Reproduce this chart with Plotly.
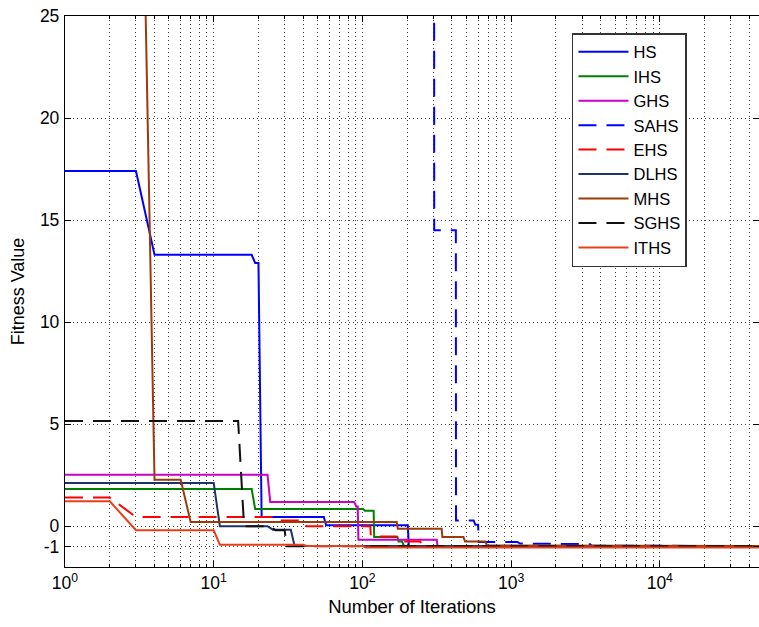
import plotly.graph_objects as go

# Convergence curves: best fitness value against iteration count
series_names = ["HS", "IHS", "GHS", "SAHS", "EHS", "DLHS", "MHS", "SGHS", "ITHS"]

hs_iter = [1, 3, 4, 18, 19, 20, 21, 55, 57, 202, 205, 50000]
hs_fit = [17.4, 17.4, 13.3, 13.3, 12.9, 12.9, 0.45, 0.45, 0.05, 0.05, -0.97, -0.97]

ihs_iter = [1, 18, 19, 101, 104, 119, 120, 172, 175, 185, 190, 50000]
ihs_fit = [1.82, 1.82, 0.84, 0.84, 0.76, 0.76, -0.53, -0.53, -0.75, -0.75, -0.97, -0.97]

ghs_iter = [1, 23, 24, 88, 91, 93, 94, 316, 320, 50000]
ghs_fit = [2.52, 2.52, 1.19, 1.19, 0.97, 0.97, -0.66, -0.66, -0.97, -0.97]

sahs_iter = [1, 303, 304, 425, 426, 560, 575, 600, 605, 1100, 1150, 3400, 3500, 50000]
sahs_fit = [45, 45, 14.5, 14.5, 0.28, 0.28, 0.07, 0.07, -0.77, -0.77, -0.85, -0.88, -0.96, -0.97]

ehs_iter = [1, 2, 3, 27, 28, 40, 42, 113, 114, 170, 175, 245, 250, 50000]
ehs_fit = [1.4, 1.4, 0.45, 0.45, 0.28, 0.28, 0.0, 0.0, -0.5, -0.5, -0.75, -0.75, -0.97, -0.97]

dlhs_iter = [1, 10, 11, 23, 25, 33, 35, 50000]
dlhs_fit = [2.12, 2.12, 0.0, 0.0, -0.17, -0.17, -0.97, -0.97]

mhs_iter = [1, 3, 4, 6, 7, 170, 173, 341, 345, 478, 490, 668, 690, 50000]
mhs_fit = [50, 50, 2.28, 2.28, 0.2, 0.2, -0.12, -0.12, -0.53, -0.53, -0.75, -0.75, -0.95, -0.97]

sghs_iter = [1, 14.6, 16, 24, 26, 30, 31, 50000]
sghs_fit = [5.15, 5.15, 0.0, 0.0, -0.2, -0.2, -0.98, -0.98]

iths_iter = [1, 2, 3, 10, 11, 40, 42, 100, 105, 50000]
iths_fit = [1.22, 1.22, -0.2, -0.2, -0.91, -0.91, -0.97, -0.97, -1.05, -1.05]

x_tick_vals = [1, 10, 100, 1000, 10000]
x_tick_text = ["10<sup>0</sup>", "10<sup>1</sup>", "10<sup>2</sup>", "10<sup>3</sup>", "10<sup>4</sup>"]
y_tick_vals = [-1, 0, 5, 10, 15, 20, 25]
y_tick_text = ["-1", "0", "5", "10", "15", "20", "25"]

# minor log ticks at 2..9 within each decade
x_minor_vals = [m * 10 ** d for d in range(5) for m in range(2, 10)]

series_x = [hs_iter, ihs_iter, ghs_iter, sahs_iter, ehs_iter, dlhs_iter, mhs_iter, sghs_iter, iths_iter]
series_y = [hs_fit, ihs_fit, ghs_fit, sahs_fit, ehs_fit, dlhs_fit, mhs_fit, sghs_fit, iths_fit]
series_color = ["#0000ff", "#008000", "#c800c8", "#0000ff", "#ff0000",
                "#1c3566", "#9b3a0a", "#111111", "#e8401a"]
series_dash = ["solid", "solid", "solid", "18px,10px", "18px,10px",
               "solid", "solid", "18px,10px", "solid"]

fig = go.Figure()
for name, xs, ys, col, dash in zip(series_names, series_x, series_y, series_color, series_dash):
    fig.add_trace(go.Scatter(
        x=xs, y=ys, mode="lines", name=name,
        line=dict(color=col, width=2, dash=dash),
    ))

font_family = "Liberation Sans, Arial, Helvetica, sans-serif"
grid_style = dict(showgrid=True, gridcolor="#444444", gridwidth=1, griddash="1px,3px")

fig.update_layout(
    width=759, height=627,
    margin=dict(l=65, r=0, t=16, b=60),
    paper_bgcolor="white", plot_bgcolor="white",
    font=dict(family=font_family, size=17, color="black"),
    showlegend=True,
    legend=dict(
        x=0.7305, xanchor="left", y=0.969, yanchor="top",
        bgcolor="white", bordercolor="#333333", borderwidth=1.5,
        font=dict(family=font_family, size=16.5, color="black"),
        itemwidth=50,
    ),
    xaxis=dict(
        type="log", range=[0, 4.667],
        tickvals=x_tick_vals, ticktext=x_tick_text,
        ticks="inside", ticklen=6, tickcolor="black", tickwidth=1,
        showline=True, linecolor="black", linewidth=1.3, mirror="ticks",
        **grid_style,
        minor=dict(tickmode="array", tickvals=x_minor_vals,
                   ticks="inside", ticklen=3, tickcolor="black", **grid_style),
        zeroline=False,
        title=dict(text="Number of Iterations", standoff=7,
                   font=dict(family=font_family, size=18.5)),
        tickfont=dict(family=font_family, size=17.5),
    ),
    yaxis=dict(
        range=[-2, 25],
        tickvals=y_tick_vals, ticktext=y_tick_text,
        ticks="inside", ticklen=6, tickcolor="black", tickwidth=1,
        showline=True, linecolor="black", linewidth=1.3, mirror="ticks",
        **grid_style,
        zeroline=False,
        ticklabelstandoff=1,
        title=dict(text="Fitness Value", standoff=10,
                   font=dict(family=font_family, size=18)),
        tickfont=dict(family=font_family, size=17.5),
    ),
)

fig.write_html("out.html")
